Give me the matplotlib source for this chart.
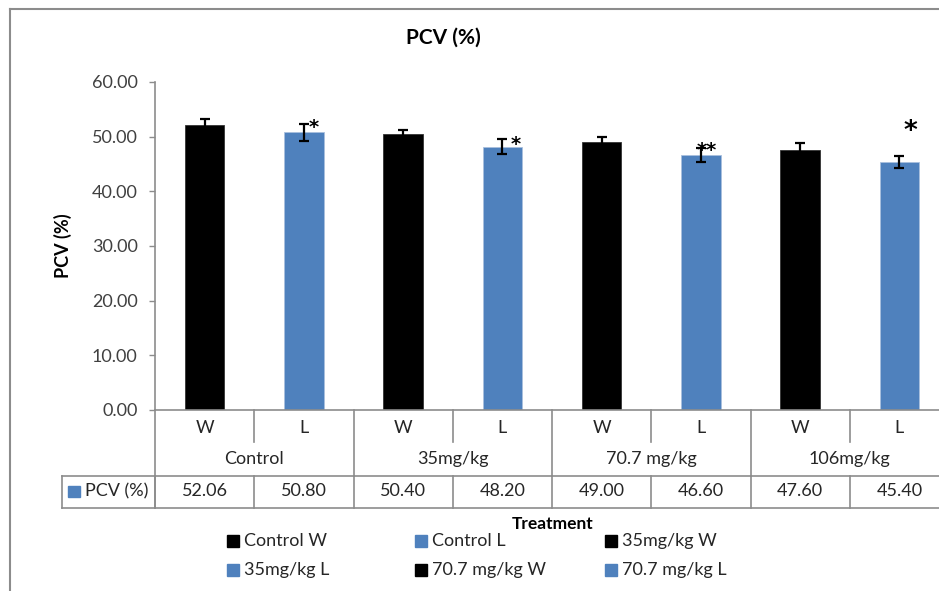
import matplotlib.pyplot as plt
import matplotlib.transforms as mtransforms
from matplotlib.patches import Rectangle
from matplotlib.lines import Line2D

plt.rcParams['font.family'] = ['Lato', 'DejaVu Sans']

# data
groups = ["Control", "35mg/kg", "70.7 mg/kg", "106mg/kg"]
subs = ["W", "L", "W", "L", "W", "L", "W", "L"]
pcv = [52.06, 50.80, 50.40, 48.20, 49.00, 46.60, 47.60, 45.40]
err = [1.1, 1.6, 0.9, 1.3, 0.9, 1.25, 1.2, 1.15]
stars = ["", "*", "", "*", "", "**", "", "*"]

BLACK = "#000000"
BLUE = "#4F81BD"
GRID = "#8C8C8C"
TXT = "#404040"

colors = [BLACK if s == "W" else BLUE for s in subs]
x = list(range(len(pcv)))

fig = plt.figure(figsize=(9.39, 5.91), dpi=100)
W, H = 939, 591
# plot area in pixels: x 155..949, y 82..410
ax = fig.add_axes([155 / W, 1 - 410 / H, 794 / W, 328 / H])

ax.bar(x, pcv, width=0.4, color=colors, edgecolor=["#333333" if c == BLACK else "#A9C0DE" for c in colors],
       linewidth=0.6, zorder=2)
ax.errorbar(x, pcv, yerr=err, fmt="none", ecolor="black", elinewidth=1.6, capsize=3.5, capthick=1.6, zorder=3)

# significance marks
star_pos = {1: (0.1, 51.6, 14), 3: (0.13, 48.6, 14), 5: (0.06, 47.5, 14), 7: (0.11, 50.9, 19)}
for i, s in enumerate(stars):
    if s:
        dx, yy, fs = star_pos[i]
        ax.text(i + dx, yy, s, ha="center", va="center", fontsize=fs, color="black",
                family="DejaVu Sans", fontweight="bold")

ax.set_xlim(-0.5, 7.5)
ax.set_ylim(0, 60)
ax.set_yticks([0, 10, 20, 30, 40, 50, 60])
ax.set_yticklabels([f"{v:.2f}" for v in [0, 10, 20, 30, 40, 50, 60]])
ax.tick_params(axis="y", length=4.5, width=1, color=GRID, labelcolor=TXT, labelsize=13, pad=8)
ax.set_xticks([])
for sp in ["top", "right"]:
    ax.spines[sp].set_visible(False)
ax.spines["left"].set_color(GRID)
ax.spines["bottom"].set_color(GRID)
ax.spines["left"].set_linewidth(1.2)
ax.spines["bottom"].set_linewidth(1.2)

ax.set_ylabel("PCV (%)", fontsize=13, fontweight="bold", color="black", labelpad=2)
ax.yaxis.set_label_coords(-0.105, 0.5)

# data table under the axis
tr = mtransforms.blended_transform_factory(ax.transData, ax.transAxes)
px = 1 / 328
y_sub = -(441.7 - 410) * px
y_grp = -(475.5 - 410) * px
y_bot = -(507.5 - 410) * px
x_left = (61.7 - 155) / 99.25 - 0.5


def vline(xx, y0, y1):
    ax.add_line(Line2D([xx, xx], [y0, y1], transform=tr, color=GRID, lw=1.2, clip_on=False))


def hline(y, x0, x1):
    ax.add_line(Line2D([x0, x1], [y, y], transform=tr, color=GRID, lw=1.2, clip_on=False))


vline(-0.5, 0, y_bot)
for b in [0.5, 2.5, 4.5, 6.5]:
    vline(b, 0, y_sub)
for b in [1.5, 3.5, 5.5, 7.5]:
    vline(b, 0, y_grp)
for b in [x_left] + [k + 0.5 for k in range(-1, 8)]:
    vline(b, y_grp, y_bot)
hline(y_grp, x_left, 7.5)
hline(y_bot, x_left, 7.5)

for i, s in enumerate(subs):
    ax.text(i, -(428 - 410) * px, s, transform=tr, ha="center", va="center", fontsize=13, color="#262626")
    ax.text(i, -(491 - 410) * px, f"{pcv[i]:.2f}", transform=tr, ha="center", va="center",
            fontsize=13, color="#262626")
for g, name in enumerate(groups):
    ax.text(2 * g + 0.5, -(459 - 410) * px, name, transform=tr, ha="center", va="center",
            fontsize=13, color="#262626")

fig.add_artist(Rectangle((68 / W, 1 - 497 / H), 12 / W, 11 / H, color=BLUE, transform=fig.transFigure))
fig.text(85 / W, 1 - 491 / H, "PCV (%)", ha="left", va="center", fontsize=13, color="#262626")

# title and axis title
fig.text(443 / W, 1 - 38 / H, "PCV (%)", ha="center", va="center", fontsize=15, fontweight="bold")
fig.text(553 / W, 1 - 524 / H, "Treatment", ha="center", va="center", fontsize=12.5, fontweight="bold")

# legend
leg_items = [("Control W", BLACK), ("Control L", BLUE), ("35mg/kg W", BLACK),
             ("35mg/kg L", BLUE), ("70.7 mg/kg W", BLACK), ("70.7 mg/kg L", BLUE)]
col_x = [227, 415, 605]
row_y = [541, 569.5]
for k, (lab, c) in enumerate(leg_items):
    cx = col_x[k % 3]
    cy = row_y[k // 3]
    fig.add_artist(Rectangle((cx / W, 1 - (cy + 6) / H), 12 / W, 12 / H, color=c, transform=fig.transFigure))
    fig.text((cx + 17) / W, 1 - cy / H, lab, ha="left", va="center", fontsize=13, color="#262626")

# chart border (left and top visible)
fig.add_artist(Line2D([9.5 / W, 9.5 / W], [0, 1 - 8.5 / H], color=GRID, lw=1.5, transform=fig.transFigure))
fig.add_artist(Line2D([9.5 / W, 1], [1 - 8.5 / H, 1 - 8.5 / H], color=GRID, lw=1.5, transform=fig.transFigure))

fig.savefig("out.png", dpi=100)
